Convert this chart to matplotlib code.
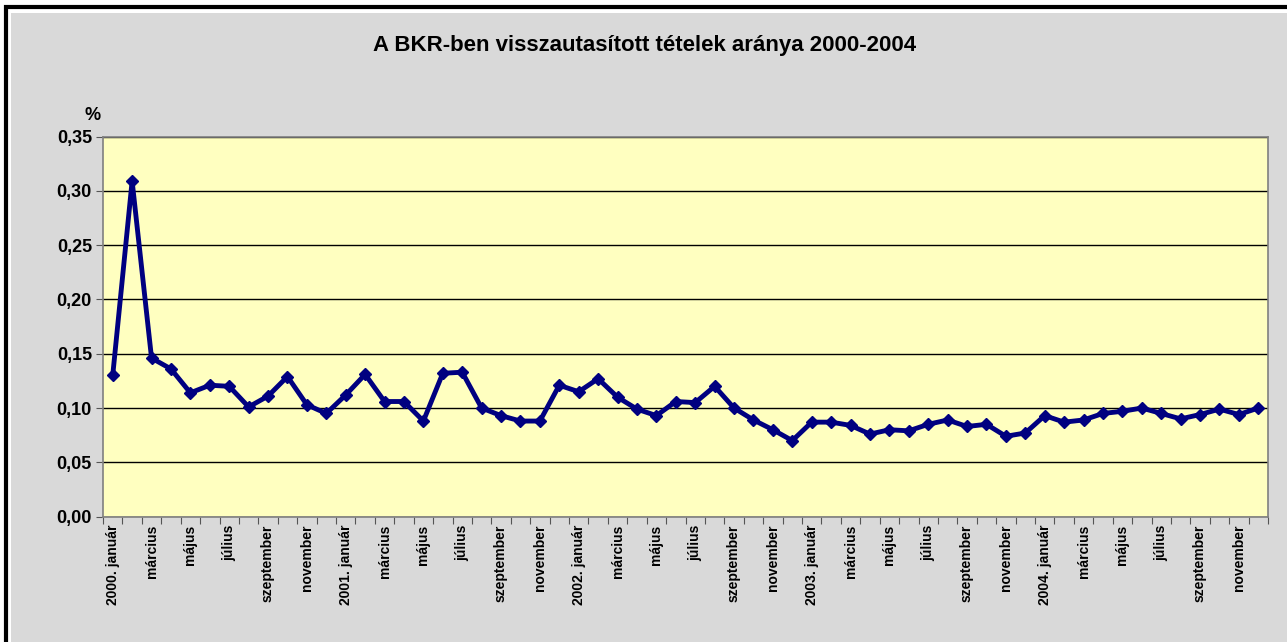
import numpy as np
import matplotlib
matplotlib.use("Agg")
import matplotlib.pyplot as plt
from matplotlib.patches import Rectangle

# monthly share of rejected items, 2000 Jan .. 2004 Dec (%)
years = [2000, 2001, 2002, 2003, 2004]
months = ["január", "február", "március", "április", "május", "június",
          "július", "augusztus", "szeptember", "október", "november", "december"]
values = [
    0.130, 0.309, 0.146, 0.136, 0.114, 0.121, 0.120, 0.101, 0.111, 0.129, 0.103, 0.095,
    0.112, 0.131, 0.106, 0.106, 0.088, 0.132, 0.133, 0.100, 0.093, 0.088, 0.088, 0.121,
    0.115, 0.127, 0.110, 0.099, 0.093, 0.106, 0.105, 0.120, 0.100, 0.089, 0.080, 0.070,
    0.087, 0.087, 0.084, 0.076, 0.080, 0.079, 0.085, 0.089, 0.083, 0.085, 0.074, 0.077,
    0.093, 0.087, 0.089, 0.095, 0.097, 0.100, 0.095, 0.090, 0.094, 0.099, 0.094, 0.100,
]
title = "A BKR-ben visszautasított tételek aránya 2000-2004"
yticks = [0.00, 0.05, 0.10, 0.15, 0.20, 0.25, 0.30, 0.35]

labels = []
for y in years:
    for m_i, m in enumerate(months):
        labels.append(f"{y}. {m}" if m_i == 0 else m)

plt.rcParams["font.family"] = ["Liberation Sans", "DejaVu Sans"]

W, H = 1287, 642
fig = plt.figure(figsize=(W / 100, H / 100), dpi=100, facecolor="white")

# chart background + black frame (only left/top edges visible in the crop)
fig.add_artist(Rectangle((11 / W, -0.1), 1.2, (H - 13) / H + 0.1,
                         transform=fig.transFigure, facecolor="#d9d9d9",
                         edgecolor="none", zorder=0))
fig.add_artist(Rectangle((6 / W, -0.1), 1.2, (H - 7) / H + 0.1,
                         transform=fig.transFigure, facecolor="none",
                         edgecolor="black", linewidth=3, zorder=1))

ax = fig.add_axes([103 / W, 125.4 / H, (1268 - 103) / W, 380 / H])
ax.set_facecolor("#ffffc0")

x = np.arange(len(values))
ax.plot(x, values, color="#000080", linewidth=3.5, marker="D",
        markersize=6.5, zorder=3)

ax.set_ylim(0, 0.35)
ax.set_yticks(yticks)
ax.set_yticklabels([f"{v:.2f}".replace(".", ",") for v in yticks],
                   fontsize=13, fontweight="bold")
ax.grid(axis="y", color="black", linewidth=1)
ax.set_axisbelow(True)

ax.set_xlim(-0.5, len(values) - 0.5)
ax.set_xticks(np.arange(-0.5, len(values), 1.0))
ax.set_xticklabels([])
ax.set_xticks(x[::2], minor=True)
ax.set_xticklabels(labels[::2], minor=True, rotation=90,
                   fontsize=10, fontweight="bold")
ax.tick_params(axis="x", which="major", length=5, color="#555555")
ax.tick_params(axis="x", which="minor", length=0, pad=6)
ax.tick_params(axis="y", length=5, color="#555555", pad=3)

for s in ax.spines.values():
    s.set_color("#808080")
    s.set_linewidth(1.2)

fig.text(645 / W, 1 - 45 / H, title, ha="center", va="center",
         fontsize=16, fontweight="bold")
fig.text(93 / W, 1 - 115 / H, "%", ha="center", va="center",
         fontsize=13, fontweight="bold")

fig.savefig("out.png", dpi=100, facecolor=fig.get_facecolor())
